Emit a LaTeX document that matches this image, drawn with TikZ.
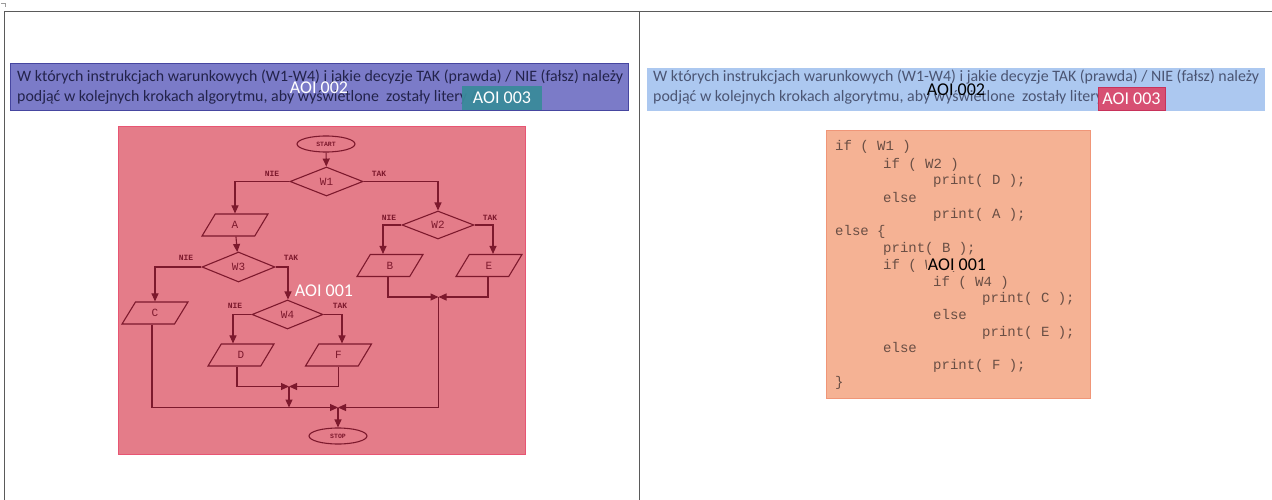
\documentclass[tikz,border=0pt]{standalone}
\usepackage{fontspec}
\setmainfont{Carlito}
\newfontfamily\codefont{Liberation Mono}
\usetikzlibrary{shapes.geometric,arrows.meta}
\definecolor{frameline}{RGB}{90,90,90}
\definecolor{bluefill}{RGB}{123,123,200}
\definecolor{blueline}{RGB}{70,70,160}
\definecolor{bluetext}{RGB}{35,35,75}
\definecolor{tealfill}{RGB}{58,138,155}
\definecolor{pinkfill}{RGB}{228,124,137}
\definecolor{pinkline}{RGB}{232,85,115}
\definecolor{flow}{RGB}{125,25,45}
\definecolor{ltblue}{RGB}{172,200,240}
\definecolor{ltbluetext}{RGB}{75,85,115}
\definecolor{redfill}{RGB}{215,80,115}
\definecolor{redline}{RGB}{200,50,90}
\definecolor{salmon}{RGB}{245,178,148}
\definecolor{salmonline}{RGB}{240,150,120}
\definecolor{codetext}{RGB}{105,78,68}
\tikzset{
  fl/.style={draw=flow, line width=1.1pt, text=flow, font=\codefont\fontsize{11}{11}\selectfont},
  dec/.style={fl, diamond, inner sep=0pt, minimum width=73pt, minimum height=29pt},
  io/.style={fl, trapezium, trapezium left angle=73, trapezium right angle=107, trapezium stretches=true, minimum width=66pt, minimum height=22pt, inner sep=0pt},
  term/.style={fl, ellipse, inner sep=0pt, minimum width=58pt, minimum height=16pt, font=\codefont\bfseries\fontsize{6.5}{6.5}\selectfont},
  lab/.style={text=flow, font=\codefont\bfseries\fontsize{8}{8}\selectfont, inner sep=0pt},
  arr/.style={draw=flow, line width=1.1pt, -{Triangle[length=8pt,width=7pt]}},
  aoi/.style={font=\fontsize{18}{18}\selectfont, inner sep=1pt},
  code/.style={anchor=base west, text=codetext, font=\codefont\fontsize{14}{14}\selectfont, inner sep=0pt},
  qtext/.style={anchor=base west, font=\fontsize{15.9}{15.9}\selectfont, inner sep=0pt},
}
\begin{document}
\begin{tikzpicture}[x=1pt,y=-1pt]
\useasboundingbox (0,0) rectangle (1272,500);
\fill[white] (0,0) rectangle (1272,500);
% frame
\draw[frameline, line width=0.8pt] (4,500) -- (4,11) -- (1272,11);
\draw[frameline, line width=0.8pt] (639,11) -- (639,500);
\draw[frameline!60, line width=0.6pt] (1,3.5) -- (5,3.5) -- (5,7);

% ---------- left panel ----------
\node[draw=blueline, fill=bluefill, line width=1pt, minimum width=618pt, minimum height=47pt, inner sep=0pt] (qbox) at (319,87.5) {};
\node[qtext, text=bluetext] (q1) at (17,82) {W których instrukcjach warunkowych (W1-W4) i jakie decyzje TAK (prawda) / NIE (fałsz) należy};
\node[qtext, text=bluetext] (q2) at (17,102) {podjąć w kolejnych krokach algorytmu, aby wyświetlone\ \ zostały litery A};
\node[aoi, text=white] (aoi2l) at (319,88) {AOI 002};
\node[fill=tealfill, fill opacity=0.95, text opacity=1, text=white, minimum width=80pt, minimum height=24pt, inner sep=0pt, font=\fontsize{18}{18}\selectfont] (aoi3l) at (502,98) {AOI 003};

\node[draw=pinkline, fill=pinkfill, line width=1pt, minimum width=407pt, minimum height=327pt, inner sep=0pt] (pbox) at (321.5,290.5) {};

% flowchart
\node[term] (start) at (326,144) {START};
\node[dec] (w1) at (326.5,181.5) {W1};
\node[io] (a) at (235,225) {A};
\node[dec, minimum width=72pt, minimum height=28pt] (w2) at (438,225) {W2};
\node[io] (b) at (390,265.5) {B};
\node[io] (e) at (489,265.5) {E};
\node[dec, minimum height=30pt] (w3) at (238.5,267) {W3};
\node[io] (c) at (155,313) {C};
\node[dec, minimum width=71pt] (w4) at (287.5,314.5) {W4};
\node[io] (d) at (241,355) {D};
\node[io] (f) at (338.5,355) {F};
\node[term] (stop) at (338,436) {STOP};

\node[lab] (n1) at (272,174) {NIE};
\node[lab] (t1) at (379,174) {TAK};
\node[lab] (n2) at (389,218) {NIE};
\node[lab] (t2) at (490,218) {TAK};
\node[lab] (n3) at (186,258) {NIE};
\node[lab] (t3) at (291,258) {TAK};
\node[lab] (n4) at (235,306) {NIE};
\node[lab] (t4) at (340,306) {TAK};

\coordinate (j1) at (438.5,297);
\coordinate (j2) at (289,386.5);
\coordinate (j3) at (338,407.5);

\draw[arr] (start) -- (w1);
\draw[arr] (w1.west) -| (a.north);
\draw[arr] (w1.east) -| (w2.north);
\draw[arr] (w2.west) -| ([xshift=-7pt]b.north);
\draw[arr] (w2.east) -| ([xshift=4pt]e.north);
\draw[arr] (a) -- (w3);
\draw[arr] (w3.west) -| (c.north);
\draw[arr] (w3.east) -| ([xshift=0.5pt]w4.north);
\draw[arr] (w4.west) -| ([xshift=-8pt]d.north);
\draw[arr] (w4.east) -| ([xshift=3.5pt]f.north);
\draw[arr] ([xshift=-2pt]b.south) |- (j1);
\draw[arr] ([xshift=-1pt]e.south) |- (j1);
\draw[arr] ([xshift=-4pt]d.south) |- (j2);
\draw[arr] (f.south) |- (j2);
\draw[arr] (j2) -- (j2 |- j3);
\draw[arr] ([xshift=-3pt]c.south) |- (j3);
\draw[arr] (j1) |- (j3);
\draw[arr] (j3) -- (stop);

\node[aoi, text=white] (aoi1l) at (324,291) {AOI 001};

% ---------- right panel ----------
\node[fill=ltblue, minimum width=618pt, minimum height=43pt, inner sep=0pt] (qboxr) at (956,89.5) {};
\node[qtext, text=ltbluetext] (r1) at (653,82) {W których instrukcjach warunkowych (W1-W4) i jakie decyzje TAK (prawda) / NIE (fałsz) należy};
\node[qtext, text=ltbluetext] (r2) at (653,102) {podjąć w kolejnych krokach algorytmu, aby wyświetlone\ \ zostały litery A};
\node[aoi, text=black] (aoi2r) at (956,90) {AOI 002};
\node[draw=redline, fill=redfill, line width=0.8pt, text=white, minimum width=67pt, minimum height=23pt, inner sep=0pt, font=\fontsize{18}{18}\selectfont] (aoi3r) at (1131.5,98.5) {AOI 003};

\node[draw=salmonline, fill=salmon, line width=1pt, minimum width=264pt, minimum height=267pt, inner sep=0pt] (cbox) at (958,264.5) {};
\node[code] (l1) at (835,151) {if ( W1 )};
\node[code] (l2) at (883,168) {if ( W2 )};
\node[code] (l3) at (933,185) {print( D );};
\node[code] (l4) at (883,202) {else};
\node[code] (l5) at (933,218) {print( A );};
\node[code] (l6) at (835,235) {else \{};
\node[code] (l7) at (883,252) {print( B );};
\node[code] (l8) at (883,269) {if ( W3 )};
\node[code] (l9) at (933,286) {if ( W4 )};
\node[code] (l10) at (982,302) {print( C );};
\node[code] (l11) at (933,319) {else};
\node[code] (l12) at (982,336) {print( E );};
\node[code] (l13) at (883,352) {else};
\node[code] (l14) at (933,369) {print( F );};
\node[code] (l15) at (835,386) {\}};
\node[aoi, text=black, fill=salmon, inner sep=0.5pt] (aoi1r) at (957,265) {AOI 001};
\end{tikzpicture}
\end{document}
